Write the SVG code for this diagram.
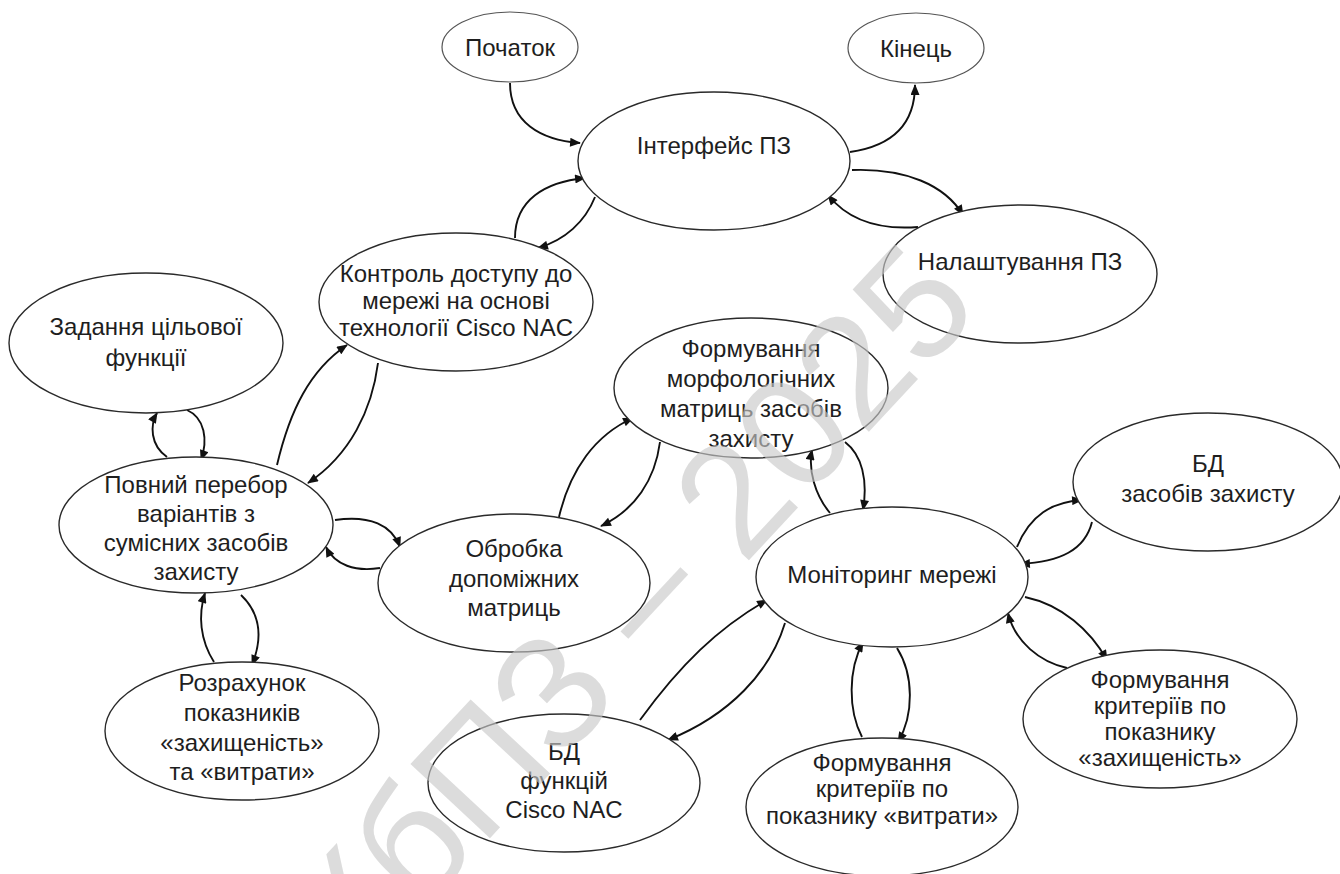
<svg xmlns="http://www.w3.org/2000/svg" width="1340" height="874" viewBox="0 0 1340 874">
<style>
.n{fill:#fff;stroke:#2a2a2a;stroke-width:1.4}
.s{fill:#fff;stroke:#555;stroke-width:1.2}
.t{font-family:"Liberation Sans",Arial,sans-serif;font-size:24px;fill:#1e1e1e;text-anchor:middle}
.c{fill:none;stroke:#111;stroke-width:1.9;marker-end:url(#ah)}
.wm{font-family:"Liberation Sans",Arial,sans-serif;font-size:158px;fill:#c8c8c8;fill-opacity:0.64;text-anchor:middle}
</style>
<defs>
<marker id="ah" viewBox="0 0 12 10" refX="11" refY="5" markerWidth="12" markerHeight="9" markerUnits="userSpaceOnUse" orient="auto">
<path d="M0,0 L12,5 L0,10 z" fill="#111"/>
</marker>
</defs>
<rect width="1340" height="874" fill="#fff"/>

<g id="connectors">
<path class="c" d="M510,83 C510,122 540,140 580,143"/>
<path class="c" d="M850,152 C892,146 915,125 915,85"/>
<path class="c" d="M852,170 C905,168 945,185 963,215"/>
<path class="c" d="M918,227 C880,230 848,220 828,195"/>
<path class="c" d="M515,238 C515,200 545,182 585,178"/>
<path class="c" d="M595,197 C585,222 565,240 538,248"/>
<path class="c" d="M277,465 C290,410 310,370 347,345"/>
<path class="c" d="M378,363 C372,410 350,455 308,483"/>
<path class="c" d="M167,457 C150,445 150,425 157,413"/>
<path class="c" d="M187,410 C205,418 208,440 201,460"/>
<path class="c" d="M335,520 C370,515 392,525 400,547"/>
<path class="c" d="M380,568 C355,572 335,565 326,547"/>
<path class="c" d="M214,662 C200,640 198,615 205,593"/>
<path class="c" d="M241,595 C262,615 262,640 252,665"/>
<path class="c" d="M559,517 C570,470 595,435 633,418"/>
<path class="c" d="M660,442 C655,480 635,510 601,526"/>
<path class="c" d="M845,442 C862,455 868,480 863,510"/>
<path class="c" d="M830,513 C815,495 808,470 812,450"/>
<path class="c" d="M1017,547 C1030,515 1052,502 1082,500"/>
<path class="c" d="M1092,522 C1085,550 1060,562 1020,564"/>
<path class="c" d="M1025,597 C1062,605 1090,630 1107,660"/>
<path class="c" d="M1067,668 C1040,662 1015,642 1008,613"/>
<path class="c" d="M897,648 C914,675 914,715 898,742"/>
<path class="c" d="M862,737 C848,710 848,670 863,642"/>
<path class="c" d="M640,720 C680,665 718,628 767,600"/>
<path class="c" d="M785,623 C770,672 730,715 668,740"/>
</g>

<g id="start"><ellipse class="s" cx="510" cy="47" rx="68" ry="35"/><text class="t" x="510" y="56">Початок</text></g>
<g id="end"><ellipse class="s" cx="916" cy="48" rx="68" ry="35"/><text class="t" x="916" y="57">Кінець</text></g>
<g id="interface"><ellipse class="n" cx="714" cy="161" rx="136" ry="69"/><text class="t" x="714" y="154">Інтерфейс ПЗ</text></g>
<g id="settings"><ellipse class="n" cx="1020" cy="274" rx="137" ry="69"/><text class="t" x="1020" y="270">Налаштування ПЗ</text></g>
<g id="access-control"><ellipse class="n" cx="456" cy="302" rx="137" ry="69"/>
<text class="t" x="456" y="282">Контроль доступу до</text><text class="t" x="456" y="309">мережі на основі</text><text class="t" x="456" y="336">технології Cisco NAC</text></g>
<g id="objective"><ellipse class="n" cx="146" cy="343" rx="137" ry="70"/>
<text class="t" x="146" y="335">Задання цільової</text><text class="t" x="146" y="366">функції</text></g>
<g id="morph"><ellipse class="n" cx="751" cy="388" rx="137" ry="70"/>
<text class="t" x="751" y="357">Формування</text><text class="t" x="751" y="387">морфологічних</text><text class="t" x="751" y="417">матриць засобів</text><text class="t" x="751" y="447">захисту</text></g>
<g id="db-tools"><ellipse class="n" cx="1208" cy="482" rx="135" ry="69"/>
<text class="t" x="1208" y="472">БД</text><text class="t" x="1208" y="502">засобів захисту</text></g>
<g id="enumeration"><ellipse class="n" cx="196" cy="525" rx="137" ry="68"/>
<text class="t" x="196" y="493">Повний перебор</text><text class="t" x="196" y="522">варіантів з</text><text class="t" x="196" y="551">сумісних засобів</text><text class="t" x="196" y="580">захисту</text></g>
<g id="processing"><ellipse class="n" cx="514" cy="583" rx="136" ry="69"/>
<text class="t" x="514" y="557">Обробка</text><text class="t" x="514" y="587">допоміжних</text><text class="t" x="514" y="616">матриць</text></g>
<g id="monitoring"><ellipse class="n" cx="892" cy="577" rx="136" ry="70"/><text class="t" x="892" y="583">Моніторинг мережі</text></g>
<g id="calculation"><ellipse class="n" cx="242" cy="731" rx="137" ry="69"/>
<text class="t" x="242" y="691">Розрахунок</text><text class="t" x="242" y="721">показників</text><text class="t" x="242" y="751">«захищеність»</text><text class="t" x="242" y="780">та «витрати»</text></g>
<g id="db-functions"><ellipse class="n" cx="564" cy="783" rx="136" ry="69"/>
<text class="t" x="564" y="760">БД</text><text class="t" x="564" y="789">функцій</text><text class="t" x="564" y="818">Cisco NAC</text></g>
<g id="criteria-security"><ellipse class="n" cx="1160" cy="719" rx="137" ry="69"/>
<text class="t" x="1160" y="688">Формування</text><text class="t" x="1160" y="714">критеріїв по</text><text class="t" x="1160" y="740">показнику</text><text class="t" x="1160" y="766">«захищеність»</text></g>
<g id="criteria-cost"><ellipse class="n" cx="882" cy="807" rx="136" ry="69"/>
<text class="t" x="882" y="771">Формування</text><text class="t" x="882" y="797">критеріїв по</text><text class="t" x="882" y="824">показнику «витрати»</text></g>

<g id="watermark"><text class="wm" transform="translate(670,645) rotate(-47)">КбПЗ – 2025</text></g>
</svg>
